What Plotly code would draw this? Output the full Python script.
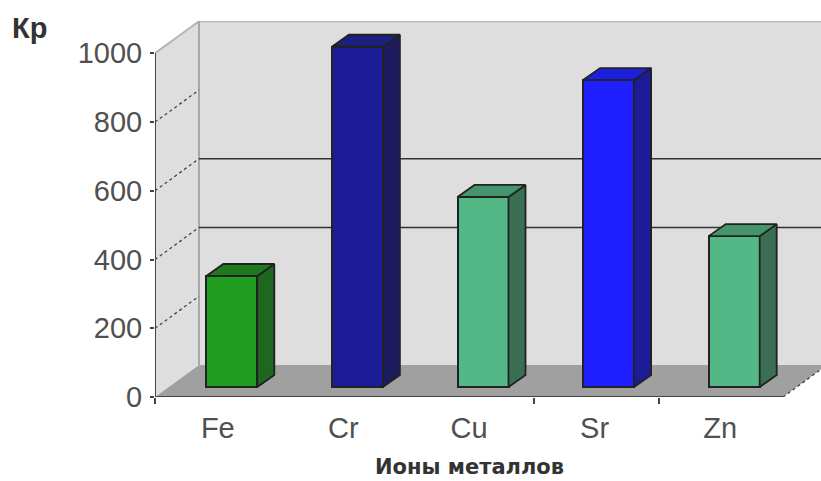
import plotly.graph_objects as go

# Data
categories = ["Fe", "Cr", "Cu", "Sr", "Zn"]
values = [323, 990, 553, 893, 439]
y_ticks = [0, 200, 400, 600, 800, 1000]
x_tick_marks = [0, 3.02, 4.01]
wall_lines = [400, 600]
front_colors = ["#1f9e20", "#1c1c99", "#53b885", "#1f1fff", "#53b885"]
side_colors = ["#1f661f", "#1c1c5e", "#3a6e55", "#1c1c99", "#3a6e55"]
top_colors = ["#1f7a1f", "#1c2080", "#45946c", "#1c1fdb", "#45946c"]

# Pixel scale of the axes and the oblique projection
W, H = 821, 481
LEFT, BASE, TOP = 155, 397, 21
CAT_PX = 125.6
VAL_PX = 0.3437


def dx(px):
    return px / CAT_PX


def dy(px):
    return px / VAL_PX


DEPTH_X, DEPTH_Y = dx(44), dy(32)
BAR_SHIFT_X, BAR_BASE = dx(14), dy(10)
BAR_W = dx(51)
SIDE_X, SIDE_Y = dx(17), dy(12)
EDGE = "#222222"
n = len(categories)

fig = go.Figure()
shapes = []


def poly(xs, ys, fill, line=None, layer="below"):
    path = "M " + " L ".join(f"{x},{y}" for x, y in zip(xs, ys)) + " Z"
    shapes.append(dict(type="path", path=path, xref="x", yref="y", fillcolor=fill,
                       line=dict(width=0) if line is None else line, layer=layer))


def seg(x0, y0, x1, y1, color, width=1.5, dash="solid", layer="below"):
    shapes.append(dict(type="line", xref="x", yref="y", x0=x0, y0=y0, x1=x1, y1=y1,
                       line=dict(color=color, width=width, dash=dash), layer=layer))


# Side wall, back wall and floor
poly([0, 0, DEPTH_X, DEPTH_X], [0, 1000, 1000 + DEPTH_Y, DEPTH_Y], "#dedede")
poly([DEPTH_X, DEPTH_X, n + DEPTH_X, n + DEPTH_X],
     [DEPTH_Y, 1000 + DEPTH_Y, 1000 + DEPTH_Y, DEPTH_Y], "#dedede")
poly([0, DEPTH_X, n + DEPTH_X, n], [0, DEPTH_Y, DEPTH_Y, 0], "#a0a0a0")

# Wall outline
seg(0, 1000, DEPTH_X, 1000 + DEPTH_Y, "#b4b4b4", 2)
seg(DEPTH_X, 1000 + DEPTH_Y, n + DEPTH_X, 1000 + DEPTH_Y, "#b4b4b4", 2)
seg(DEPTH_X, DEPTH_Y, DEPTH_X, 1000 + DEPTH_Y, "#a8a8a8", 2)

# Gridlines: dotted across the side wall, solid on the back wall where drawn
for v in y_ticks[1:-1]:
    seg(0, v, DEPTH_X, v + DEPTH_Y, "#444444", 1.3, "dot")
for v in wall_lines:
    seg(DEPTH_X, v + DEPTH_Y, n + DEPTH_X, v + DEPTH_Y, "#333333", 1.6)
seg(n, 0, n + DEPTH_X, DEPTH_Y, "#444444", 1.3, "dot")

# Front faces
centers = [i + 0.5 for i in range(n)]
fig.add_trace(go.Bar(
    x=[c + BAR_SHIFT_X for c in centers], y=values, base=BAR_BASE, width=BAR_W,
    marker=dict(color=front_colors, line=dict(color=EDGE, width=2)),
    hoverinfo="skip", showlegend=False,
))

# Side and top faces, projected from each bar's value
for c, v, sc, tc in zip(centers, values, side_colors, top_colors):
    x0 = c + BAR_SHIFT_X - BAR_W / 2
    x1 = x0 + BAR_W
    y0, y1 = BAR_BASE, BAR_BASE + v
    fig.add_trace(go.Scatter(
        x=[x1, x1 + SIDE_X, x1 + SIDE_X, x1, x1], y=[y0, y0 + SIDE_Y, y1 + SIDE_Y, y1, y0],
        mode="lines", fill="toself", fillcolor=sc, line=dict(color=EDGE, width=1.8),
        hoverinfo="skip", showlegend=False,
    ))
    fig.add_trace(go.Scatter(
        x=[x0, x0 + SIDE_X, x1 + SIDE_X, x1, x0], y=[y1, y1 + SIDE_Y, y1 + SIDE_Y, y1, y1],
        mode="lines", fill="toself", fillcolor=tc, line=dict(color=EDGE, width=1.8),
        hoverinfo="skip", showlegend=False,
    ))

# Axis lines
seg(0, 0, 0, 1000, "#444444", 2, layer="above")
seg(0, 0, n, 0, "#444444", 2, layer="above")

FONT = "Liberation Sans"
fig.update_layout(
    width=W, height=H, autosize=False,
    margin=dict(l=LEFT, r=0, t=TOP, b=H - BASE),
    paper_bgcolor="white", plot_bgcolor="white", shapes=shapes, bargap=0,
    font=dict(family=FONT, color="#505050", size=29),
    xaxis=dict(range=[0, (W - LEFT) / CAT_PX], tickmode="array", tickvals=centers,
               ticktext=categories, ticks="", showgrid=False, zeroline=False, showline=False,
               ticklabelstandoff=11,
               minor=dict(tickmode="array", tickvals=x_tick_marks, ticks="outside",
                          ticklen=6, tickcolor="#444444", tickwidth=1.5, showgrid=False)),
    yaxis=dict(range=[0, (BASE - TOP) / VAL_PX], tickmode="array", tickvals=y_ticks,
               ticks="outside", ticklen=4, tickcolor="#444444", tickwidth=1.5,
               ticklabelstandoff=2, showgrid=False, zeroline=False, showline=False),
    annotations=[
        dict(text="<b>Кр</b>", xref="paper", yref="paper", xanchor="left", yanchor="middle",
             x=(10 - LEFT) / (W - LEFT), y=1 - (28 - TOP) / (BASE - TOP), showarrow=False,
             font=dict(family=FONT, size=29, color="#333333")),
        dict(text="<b>Ионы металлов</b>", xref="x", yref="paper", xanchor="center", yanchor="bottom",
             x=n / 2, y=-(H - 1 - BASE) / (BASE - TOP), showarrow=False, borderpad=0,
             font=dict(family="DejaVu Sans", size=21, color="#333333")),
    ],
)

fig.write_html("out.html")
